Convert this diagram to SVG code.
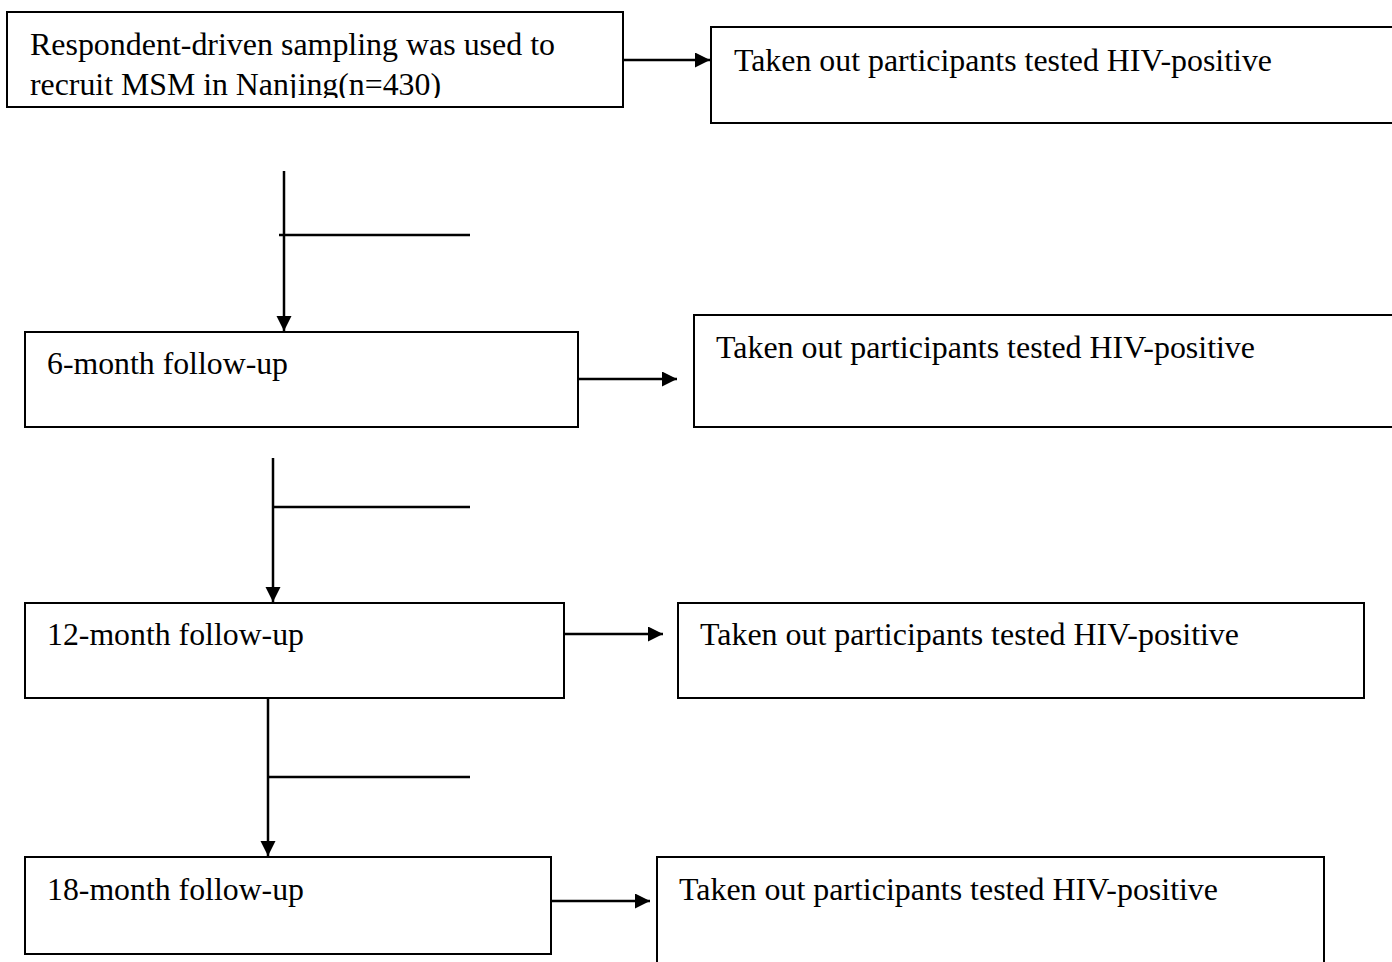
<svg xmlns="http://www.w3.org/2000/svg" width="1392" height="962" viewBox="0 0 1392 962">
<style>
.box{fill:#fff;stroke:#000;stroke-width:2}
.t{font-family:'Liberation Serif','Times New Roman',Times,serif;font-size:31px;fill:#000}
.c{fill:none;stroke:#000;stroke-width:2.5}
</style>
<defs>
<marker id="ah" markerUnits="userSpaceOnUse" markerWidth="16" markerHeight="16" refX="15" refY="7.5" orient="auto">
<path d="M0,0 L15,7.5 L0,15 z" fill="#000"/>
</marker>
<clipPath id="clip1"><rect x="0" y="0" width="700" height="98"/></clipPath>
</defs>
<rect width="1392" height="962" fill="#fff"/>
<g id="n-start">
<rect class="box" x="7" y="12" width="616" height="95"/>
<text class="t" x="30" y="55" textLength="525" lengthAdjust="spacingAndGlyphs">Respondent-driven sampling was used to</text>
<text class="t" x="30" y="95" textLength="411" lengthAdjust="spacingAndGlyphs" clip-path="url(#clip1)">recruit MSM in Nanjing(n=430)</text>
</g>
<g id="n-out0">
<rect class="box" x="711" y="27" width="700" height="96"/>
<text class="t" x="734" y="71" textLength="538" lengthAdjust="spacingAndGlyphs">Taken out participants tested HIV-positive</text>
</g>
<g id="n-6m">
<rect class="box" x="25" y="332" width="553" height="95"/>
<text class="t" x="47" y="374" textLength="241" lengthAdjust="spacingAndGlyphs">6-month follow-up</text>
</g>
<g id="n-out6">
<rect class="box" x="694" y="315" width="720" height="112"/>
<text class="t" x="716" y="358" textLength="539" lengthAdjust="spacingAndGlyphs">Taken out participants tested HIV-positive</text>
</g>
<g id="n-12m">
<rect class="box" x="25" y="603" width="539" height="95"/>
<text class="t" x="47" y="645" textLength="257" lengthAdjust="spacingAndGlyphs">12-month follow-up</text>
</g>
<g id="n-out12">
<rect class="box" x="678" y="603" width="686" height="95"/>
<text class="t" x="700" y="645" textLength="539" lengthAdjust="spacingAndGlyphs">Taken out participants tested HIV-positive</text>
</g>
<g id="n-18m">
<rect class="box" x="25" y="857" width="526" height="97"/>
<text class="t" x="47" y="900" textLength="257" lengthAdjust="spacingAndGlyphs">18-month follow-up</text>
</g>
<g id="n-out18">
<rect class="box" x="657" y="857" width="667" height="120"/>
<text class="t" x="679" y="900" textLength="539" lengthAdjust="spacingAndGlyphs">Taken out participants tested HIV-positive</text>
</g>
<g id="connectors">
<line class="c" x1="623" y1="60" x2="710" y2="60" marker-end="url(#ah)"/>
<line class="c" x1="284" y1="171" x2="284" y2="331" marker-end="url(#ah)"/>
<line class="c" x1="279" y1="235" x2="470" y2="235"/>
<line class="c" x1="578" y1="379" x2="677" y2="379" marker-end="url(#ah)"/>
<line class="c" x1="273" y1="458" x2="273" y2="602" marker-end="url(#ah)"/>
<line class="c" x1="273" y1="507" x2="470" y2="507"/>
<line class="c" x1="564" y1="634" x2="663" y2="634" marker-end="url(#ah)"/>
<line class="c" x1="268" y1="698" x2="268" y2="856" marker-end="url(#ah)"/>
<line class="c" x1="268" y1="777" x2="470" y2="777"/>
<line class="c" x1="551" y1="901" x2="650" y2="901" marker-end="url(#ah)"/>
</g>
</svg>
